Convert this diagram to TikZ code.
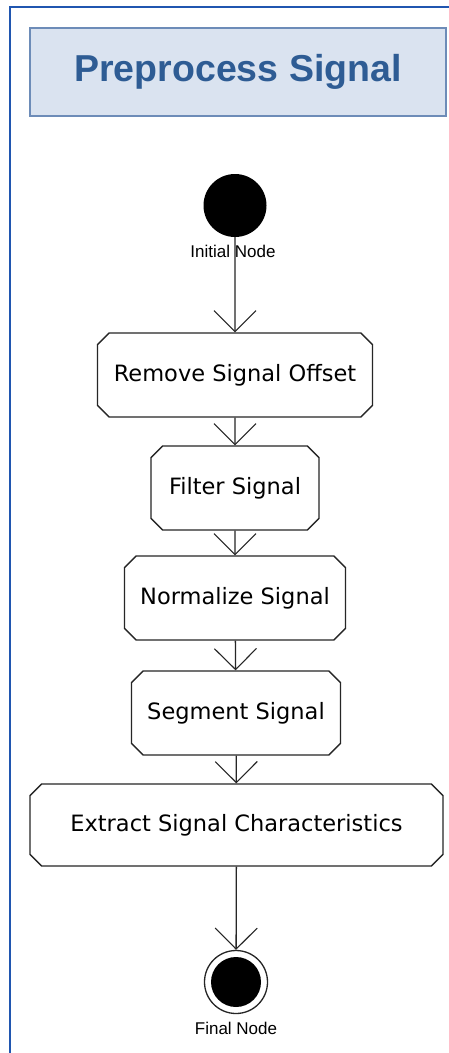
\documentclass[tikz,border=0pt]{standalone}
\usepackage{fontspec}
\setmainfont{DejaVu Sans}
\newfontfamily\labelfont{Liberation Sans}
\usetikzlibrary{arrows.meta,shapes.misc}

\definecolor{framecol}{HTML}{2056B0}
\definecolor{titlefill}{HTML}{DAE3F0}
\definecolor{titledraw}{HTML}{6D8CB8}
\definecolor{titletext}{HTML}{2E5C94}

\tikzset{
  frame/.style={draw=framecol, line width=2.6pt},
  titlebox/.style={rectangle, fill=titlefill, draw=titledraw, line width=2pt,
    minimum width=416pt, minimum height=88pt, inner sep=0pt,
    font=\labelfont\bfseries\fontsize{37.5}{41}\selectfont, text=titletext},
  action/.style={chamfered rectangle, chamfered rectangle xsep=8pt,
    draw=black!85, line width=1.3pt, fill=white, minimum height=84pt,
    inner sep=0pt, font=\fontsize{22.5}{26}\selectfont},
  startnode/.style={circle, fill=black, minimum size=63pt, inner sep=0pt},
  endnode/.style={circle, draw=black!85, line width=1.3pt, fill=white,
    minimum size=63pt, inner sep=0pt},
  nodelabel/.style={font=\labelfont\fontsize{17}{19}\selectfont, inner sep=0pt},
  flow/.style={draw=black!85, line width=1.3pt,
    -{Straight Barb[length=21pt, width=42pt, line width=1.1pt]}},
}

\begin{document}
\begin{tikzpicture}[x=1pt, y=-1pt]
  \useasboundingbox (0,0) rectangle (449,1053);
  \fill[white] (0,0) rectangle (449,1053);

  % diagram frame (top and left edges)
  \draw[frame] (449,7) -| (10,1053);

  % title
  \node[titlebox] (title) at (238,71.5) {Preprocess Signal};

  % start
  \node[startnode] (init) at (235,205.5) {};
  \node[nodelabel] (initlbl) at (233,251) {Initial Node};

  % actions
  \node[action, minimum width=275pt] (offset)  at (235,375) {Remove Signal Offset};
  \node[action, minimum width=168pt] (filter)  at (235,488) {Filter Signal};
  \node[action, minimum width=221pt] (norm)    at (235,598) {Normalize Signal};
  \node[action, minimum width=209pt] (segment) at (236,713) {Segment Signal};
  \node[action, minimum width=413pt, minimum height=82pt] (extract) at (236.5,825) {Extract Signal Characteristics};

  % end
  \node[endnode] (final) at (236,982) {};
  \fill[black] (final.center) circle (25pt);
  \node[nodelabel] (finallbl) at (236,1028) {Final Node};

  % control flow
  \draw[flow] (init) -- (offset);
  \draw[flow] (offset) -- (filter);
  \draw[flow] (filter) -- (norm);
  \draw[flow] (norm) -- (segment);
  \draw[flow] (segment) -- (extract);
  \draw[flow] (extract) -- (final);
\end{tikzpicture}
\end{document}
